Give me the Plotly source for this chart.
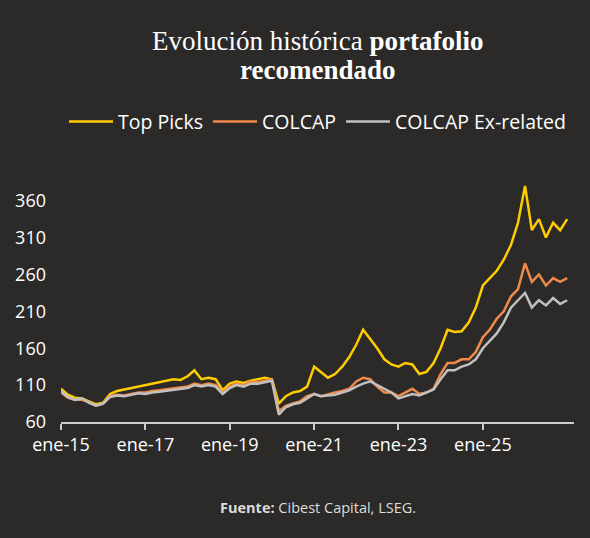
import plotly.graph_objects as go
import pandas as pd

dates = pd.date_range("2015-01-01", "2027-01-01", freq="2MS")

top_picks = [105,97,93,92,88,84,
             86,98,102,104,106,108,
             110,112,114,116,118,117,
             122,130,118,120,118,103,
             112,115,113,116,118,120,
             118,85,95,100,102,108,
             135,128,120,125,135,148,
             165,185,172,160,145,138,
             135,140,138,125,128,140,
             160,185,182,183,195,215,
             245,255,265,280,300,330,
             380,320,335,310,330,320,335]
colcap = [100,93,90,90,87,82,
          85,95,97,96,98,100,
          100,102,103,104,106,107,
          108,112,110,112,110,100,
          108,112,110,115,114,116,
          118,75,82,85,88,95,
          98,95,98,100,102,105,
          115,120,118,108,100,100,
          95,100,105,98,100,105,
          125,140,140,145,145,155,
          175,185,200,210,230,240,
          275,250,260,245,255,250,255]
colcap_ex = [102,94,90,92,86,82,
             85,94,96,95,97,99,
             98,100,101,102,104,105,
             106,110,108,110,108,98,
             106,110,108,112,112,114,
             116,70,80,84,86,92,
             98,95,96,97,100,103,
             108,112,115,110,105,100,
             92,95,98,96,100,104,
             118,130,130,135,138,145,
             160,170,180,195,215,225,
             235,215,225,218,228,220,225]

tick_vals = pd.date_range("2015-01-01", "2025-01-01", freq="24MS")
tick_text = ["ene-15", "ene-17", "ene-19", "ene-21", "ene-23", "ene-25"]
y_ticks = [60, 110, 160, 210, 260, 310, 360]

fig = go.Figure()
for name, vals, col in [("Top Picks", top_picks, "#ffcc00"),
                        ("COLCAP", colcap, "#f08a4b"),
                        ("COLCAP Ex-related", colcap_ex, "#c0c0c0")]:
    fig.add_trace(go.Scatter(x=dates, y=vals, name=name, mode="lines",
                             line=dict(color=col, width=2.5)))

bg = "#2b2a28"
fig.update_layout(
    width=590, height=538, paper_bgcolor=bg, plot_bgcolor=bg,
    margin=dict(l=61, r=16, t=180, b=116),
    font=dict(family="Open Sans", color="white", size=18),
    legend=dict(orientation="h", x=0.5, xanchor="center", y=1.24, yanchor="middle",
                font=dict(size=19.5, color="white"), bgcolor="rgba(0,0,0,0)",
                itemwidth=44),
    showlegend=True,
    xaxis=dict(range=["2015-01-01", "2027-03-01"], tickvals=tick_vals, ticktext=tick_text,
               showgrid=False, showline=True, linecolor="#cccccc", linewidth=1.5,
               ticks="outside", tickcolor="#cccccc", ticklen=6, tickwidth=1.5,
               tickfont=dict(size=18, color="white"), zeroline=False),
    yaxis=dict(range=[60, 388], tickvals=y_ticks, showgrid=False, zeroline=False,
               showline=False, ticklabelstandoff=14,
               tickfont=dict(size=18, color="white")),
)
for txt, yy in [("Evolución histórica <b>portafolio</b>", 41), ("<b>recomendado</b>", 70)]:
    fig.add_annotation(text=txt, xref="paper", yref="paper", x=0.5, xanchor="center",
                       y=1 + (180 - yy) / 242, yanchor="middle", showarrow=False,
                       font=dict(family="Liberation Serif", size=27, color="white"))
fig.add_annotation(text="<b>Fuente:</b> Cibest Capital, LSEG.", xref="paper", yref="paper",
                   x=0.5, xanchor="center", y=-(507 - 422) / 242, yanchor="middle",
                   showarrow=False, font=dict(size=14.5, color="#dddddd"))
fig.write_html("out.html", config={"displayModeBar": False})
with open("out.html") as f:
    html = f.read()
html = html.replace("<head>", "<head><style>body{margin:0;}</style>", 1)
with open("out.html", "w") as f:
    f.write(html)
